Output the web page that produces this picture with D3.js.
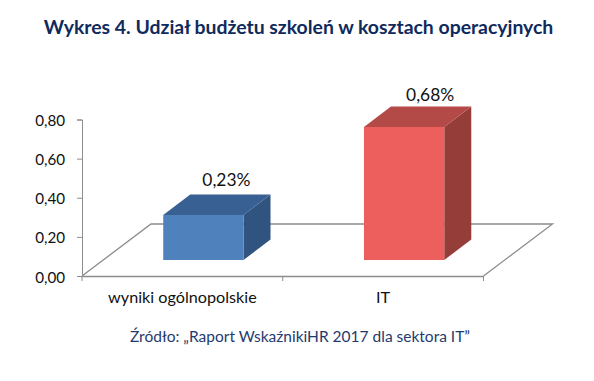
<!DOCTYPE html>
<html>
<head>
<meta charset="utf-8">
<script src="https://cdn.jsdelivr.net/npm/d3@7"></script>
<style>
html, body { margin: 0; padding: 0; background: #fff; }
svg { display: block; font-family: Lato, sans-serif; }
</style>
</head>
<body>
<div id="chart"></div>
<script>
const width = 594;
const height = 381;

const chartTitle = "Wykres 4. Udział budżetu szkoleń w kosztach operacyjnych";
const sourceNote = "Źródło: „Raport WskaźnikiHR 2017 dla sektora IT”";

const categories = ["wyniki ogólnopolskie", "IT"];
const values = [0.23, 0.68];
const valueLabels = ["0,23%", "0,68%"];
const yTicks = [0, 0.2, 0.4, 0.6, 0.8];

const frontColors = ["#4f81bd", "#ec5f5c"];
const topColors = ["#386092", "#b44a47"];
const sideColors = ["#31537f", "#953d39"];

const axisColor = "#8c8c8c";
const floorDepth = { x: 69, y: 52 };    // how far the back of the floor sits from the front
const barDepth = { x: 27, y: 20.5 };
const barInset = { x: 21, y: 16 };      // front of bar relative to front of floor
const labelShift = [{ x: 23, y: 29.5 }, { x: 26, y: 26 }];  // data labels were hand placed in the original

const svg = d3.select("#chart")
    .append("svg")
    .attr("width", width)
    .attr("height", height);

const x = d3.scaleBand()
    .domain(categories)
    .range([82, 483.5]);

const y = d3.scaleLinear()
    .domain([0, 0.8])
    .range([276, 119.5]);

const barWidth = x.bandwidth() * 0.4;

svg.append("text")
    .attr("x", 298.5)
    .attr("y", 34)
    .attr("text-anchor", "middle")
    .attr("font-size", 19.4)
    .attr("font-weight", 700)
    .attr("fill", "#0f2a5c")
    .text(chartTitle);

// Floor of the 3d plot
svg.append("path")
    .attr("d", d3.line()([
        [x.range()[0], y(0)],
        [x.range()[0] + floorDepth.x, y(0) - floorDepth.y],
        [x.range()[1] + floorDepth.x, y(0) - floorDepth.y],
        [x.range()[1], y(0)]
    ]))
    .attr("fill", "none")
    .attr("stroke", axisColor)
    .attr("stroke-width", 1.3);

const yAxis = d3.axisLeft(y)
    .tickValues(yTicks)
    .tickSize(5)
    .tickPadding(12)
    .tickFormat(d => d3.format(".2f")(d).replace(".", ","));

const xAxis = d3.axisBottom(x)
    .tickSize(0)
    .tickPadding(15);

const gx = svg.append("g")
    .attr("transform", "translate(0," + y(0) + ")")
    .call(xAxis);

// Category ticks sit between the bands, not under them
gx.selectAll(".boundary")
    .data([x.range()[0], x.range()[0] + x.step(), x.range()[1]])
    .enter()
    .append("line")
    .attr("x1", d => d)
    .attr("x2", d => d)
    .attr("y1", 0)
    .attr("y2", 5)
    .attr("stroke", axisColor);

const gy = svg.append("g")
    .attr("transform", "translate(" + x.range()[0] + ",0)")
    .call(yAxis);

gx.select(".domain").attr("stroke", axisColor).attr("stroke-width", 1.3);
gy.select(".domain").attr("stroke", axisColor);
gy.selectAll(".tick line").attr("stroke", axisColor);
gx.selectAll("text").attr("font-size", 16.2).attr("fill", "#111").attr("font-family", "Lato, sans-serif");
gy.selectAll("text").attr("font-size", 15.2).attr("dy", "0.4em").attr("fill", "#111").attr("font-family", "Lato, sans-serif");

// Bars, drawn as three faces each
const bars = svg.selectAll(".bar")
    .data(categories.map((c, i) => ({ name: c, value: values[i], label: valueLabels[i], i: i })))
    .enter()
    .append("g")
    .attr("class", "bar");

const barLeft = d => x(d.name) + x.bandwidth() / 2 + barInset.x - barWidth / 2;
const barBottom = () => y(0) - barInset.y;
const barTop = d => y(d.value) - barInset.y;

bars.append("path")
    .attr("fill", d => sideColors[d.i])
    .attr("d", d => d3.line()([
        [barLeft(d) + barWidth, barTop(d)],
        [barLeft(d) + barWidth + barDepth.x, barTop(d) - barDepth.y],
        [barLeft(d) + barWidth + barDepth.x, barBottom() - barDepth.y],
        [barLeft(d) + barWidth, barBottom()]
    ]));

bars.append("path")
    .attr("fill", d => topColors[d.i])
    .attr("d", d => d3.line()([
        [barLeft(d), barTop(d)],
        [barLeft(d) + barDepth.x, barTop(d) - barDepth.y],
        [barLeft(d) + barWidth + barDepth.x, barTop(d) - barDepth.y],
        [barLeft(d) + barWidth, barTop(d)]
    ]));

bars.append("rect")
    .attr("x", d => barLeft(d))
    .attr("y", d => barTop(d))
    .attr("width", barWidth)
    .attr("height", d => barBottom() - barTop(d))
    .attr("fill", d => frontColors[d.i]);

bars.append("text")
    .attr("x", d => barLeft(d) + barWidth / 2 + labelShift[d.i].x)
    .attr("y", d => barTop(d) - labelShift[d.i].y)
    .attr("text-anchor", "middle")
    .attr("font-size", 17.4)
    .attr("fill", "#111")
    .text(d => d.label);

svg.append("text")
    .attr("x", 300)
    .attr("y", 342)
    .attr("text-anchor", "middle")
    .attr("font-size", 15.5)
    .attr("fill", "#1f3a6e")
    .text(sourceNote);
</script>
</body>
</html>
